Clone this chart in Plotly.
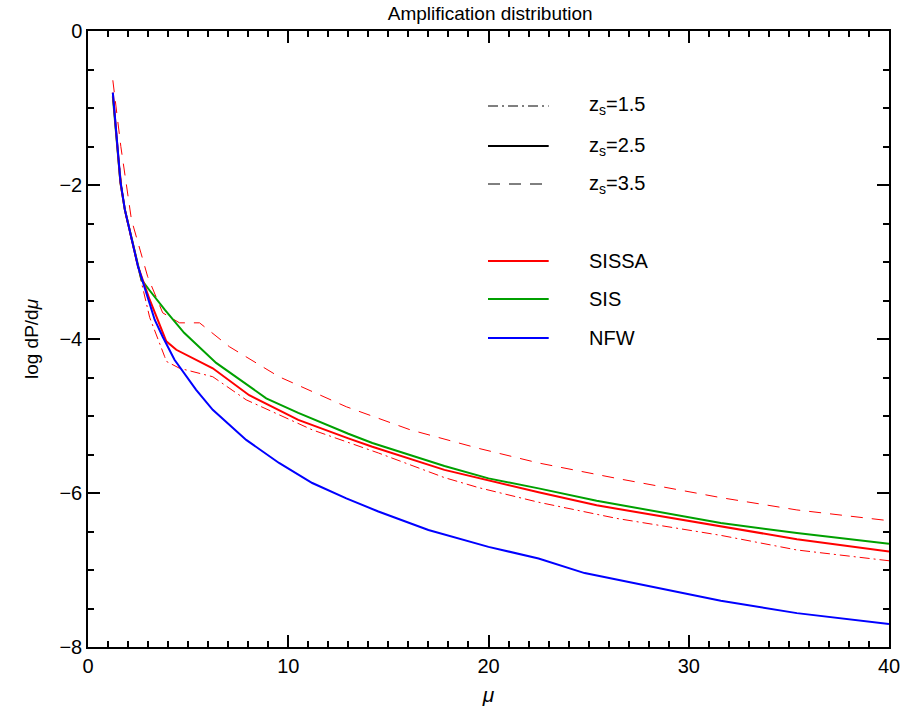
import plotly.graph_objects as go

# ---- data ----
mu_sissa = [1.24, 1.47, 1.62, 1.84, 2.5, 3.08, 3.48, 3.91, 4.41, 6.23, 8.05, 10.5, 13.0, 14.2, 17.8, 20.0, 22.5, 25.4, 31.6, 35.4, 40.0]
y_sissa = [-0.80, -1.50, -1.97, -2.32, -3.06, -3.49, -3.75, -4.03, -4.14, -4.38, -4.73, -5.05, -5.29, -5.40, -5.70, -5.84, -5.99, -6.16, -6.43, -6.60, -6.76]

mu_sis = [1.24, 1.47, 1.62, 1.84, 2.5, 2.67, 3.08, 3.83, 4.8, 6.4, 8.9, 10.5, 13.0, 14.2, 17.8, 20.0, 22.5, 25.4, 31.6, 35.4, 40.0]
y_sis = [-0.85, -1.52, -1.97, -2.32, -3.06, -3.23, -3.37, -3.62, -3.92, -4.31, -4.77, -4.96, -5.23, -5.35, -5.65, -5.81, -5.94, -6.10, -6.39, -6.52, -6.66]

mu_nfw = [1.24, 1.47, 1.62, 1.84, 2.5, 3.33, 3.73, 4.32, 4.57, 5.4, 6.23, 7.9, 9.54, 11.2, 12.9, 14.5, 17.0, 20.0, 22.5, 24.8, 31.6, 35.4, 40.0]
y_nfw = [-0.80, -1.50, -1.95, -2.32, -3.06, -3.75, -3.97, -4.27, -4.36, -4.66, -4.92, -5.31, -5.61, -5.87, -6.07, -6.24, -6.48, -6.70, -6.85, -7.04, -7.40, -7.56, -7.70]

mu_z15 = [1.24, 1.47, 1.84, 2.5, 3.08, 3.83, 3.91, 4.57, 6.23, 7.9, 11.2, 14.5, 17.8, 19.5, 22.5, 26.4, 31.6, 35.4, 40.0]
y_z15 = [-0.82, -1.52, -2.35, -3.10, -3.72, -4.23, -4.29, -4.38, -4.49, -4.79, -5.18, -5.48, -5.80, -5.93, -6.12, -6.33, -6.55, -6.74, -6.88]

mu_z35 = [1.24, 1.64, 2.17, 2.98, 3.73, 4.57, 5.57, 7.06, 9.54, 12.9, 16.1, 19.5, 22.5, 26.4, 31.6, 35.4, 40.0]
y_z35 = [-0.64, -1.50, -2.45, -3.19, -3.66, -3.79, -3.79, -4.10, -4.49, -4.88, -5.18, -5.42, -5.61, -5.81, -6.06, -6.22, -6.36]

legend_z = ["z<sub>s</sub>=1.5", "z<sub>s</sub>=2.5", "z<sub>s</sub>=3.5"]
legend_models = ["SISSA", "SIS", "NFW"]

RED, GREEN, BLUE = "#ff0000", "#00a000", "#0000ff"
DASHDOT = "10px,4px,2px,4px"
DASH = "12px,9px"

fig = go.Figure()
fig.add_trace(go.Scatter(x=mu_z15, y=y_z15, mode="lines", line=dict(color=RED, width=1, dash=DASHDOT)))
fig.add_trace(go.Scatter(x=mu_z35, y=y_z35, mode="lines", line=dict(color=RED, width=1, dash=DASH)))
fig.add_trace(go.Scatter(x=mu_sis, y=y_sis, mode="lines", line=dict(color=GREEN, width=2)))
fig.add_trace(go.Scatter(x=mu_sissa, y=y_sissa, mode="lines", line=dict(color=RED, width=2)))
fig.add_trace(go.Scatter(x=mu_nfw, y=y_nfw, mode="lines", line=dict(color=BLUE, width=2)))

FONT = "Liberation Sans, DejaVu Sans, sans-serif"

# Legend drawn manually in paper coords
W, H = 912, 720
L, R, T, B = 88, 19, 31, 73
pw, ph = W - L - R, H - T - B
def px(xp):
    return (xp - L) / pw
def py(yp):
    return 1 - (yp - T) / ph

rows = [(106, "black", 1, DASHDOT, legend_z[0]),
        (146, "black", 2, "solid", legend_z[1]),
        (184, "black", 1, DASH, legend_z[2]),
        (261, RED, 2, "solid", legend_models[0]),
        (299, GREEN, 2, "solid", legend_models[1]),
        (338, BLUE, 2, "solid", legend_models[2])]
for yp, col, w, d, txt in rows:
    fig.add_shape(type="line", xref="paper", yref="paper", x0=px(490), x1=px(551), y0=py(yp), y1=py(yp),
                  line=dict(color=col, width=w, dash=d))
    fig.add_annotation(xref="paper", yref="paper", x=px(589), y=py(yp), text=txt, showarrow=False,
                       xanchor="left", yanchor="middle", font=dict(family=FONT, size=20, color="black"))

fig.update_layout(
    width=W, height=H,
    margin=dict(l=L, r=R, t=T, b=B),
    paper_bgcolor="white", plot_bgcolor="white",
    showlegend=False,
    font=dict(family=FONT, size=20, color="black"),
    title=dict(text="Amplification distribution", x=0.5375, xanchor="center", y=1 - 13 / H, yanchor="middle",
               font=dict(family=FONT, size=19, color="black")),
)
fig.update_xaxes(range=[0, 40], tickvals=[0, 10, 20, 30, 40], ticks="inside", ticklen=12, tickwidth=1.5,
                 tickcolor="black", mirror="allticks", showline=True, linecolor="black", linewidth=1.5,
                 showgrid=False, zeroline=False,
                 minor=dict(dtick=1, ticks="inside", ticklen=6, tickcolor="black", tickwidth=1.5, showgrid=False),
                 title=dict(text="<i>μ</i>", standoff=12, font=dict(size=21)),
                 tickfont=dict(size=20))
fig.update_yaxes(range=[-8, 0], tickvals=[-8, -6, -4, -2, 0], ticks="inside", ticklen=12, tickwidth=1.5,
                 tickcolor="black", mirror="allticks", showline=True, linecolor="black", linewidth=1.5,
                 showgrid=False, zeroline=False,
                 minor=dict(dtick=0.5, ticks="inside", ticklen=6, tickcolor="black", tickwidth=1.5, showgrid=False),
                 title=dict(text="log dP/d<i>μ</i>", standoff=16, font=dict(size=19)),
                 tickfont=dict(size=20))

fig.write_html("out.html")
